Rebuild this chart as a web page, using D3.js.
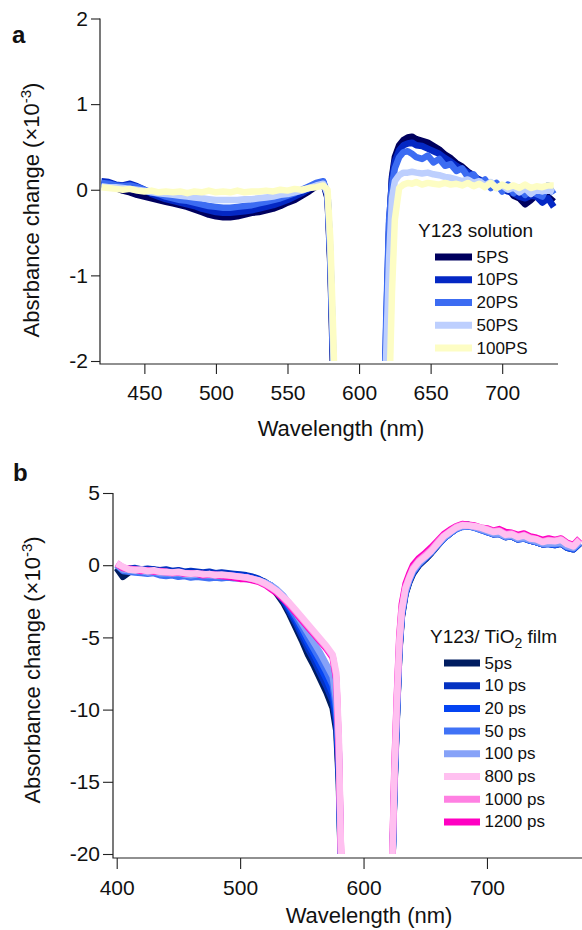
<!DOCTYPE html>
<html><head><meta charset="utf-8">
<script src="https://cdn.jsdelivr.net/npm/d3@7"></script>
<style>
body{margin:0;background:#fff}
svg{display:block}
text{font-family:"Liberation Sans",Arial,Helvetica,sans-serif;fill:#111}
</style>
</head><body>
<svg id="c" width="582" height="930"></svg>
<script>
// ---------------- Panel a data (Y123 solution) ----------------
const wlA = [420,425,430,435,440,445,450,455,460,465,470,475,480,485,490,495,500,505,510,515,520,525,530,535,540,545,550,555,560,565,570,575,
  578,580,582,584,
  617,619,621,623,625,628,631,634,637,640,
  644,648,652,656,660,664,668,672,676,680,684,688,692,696,700,704,708,712,716,720,724,728,732,736];
const namesA = ["5PS","10PS","20PS","50PS","100PS"];
const colorsA = ["#00005e","#0428c4","#3c6cf2","#bdcffe","#fdfdc4"];
const a5PS = [0.06,0.05,0.02,-0.01,-0.03,-0.06,-0.08,-0.10,-0.12,-0.14,-0.16,-0.18,-0.20,-0.23,-0.26,-0.29,-0.31,-0.32,-0.32,-0.31,-0.29,-0.27,-0.26,-0.24,-0.22,-0.19,-0.15,-0.12,-0.07,-0.02,0.04,0.08,
  -0.1,-0.9,-2.2,-3,
  -3,-1.8,-0.5,0.15,0.38,0.52,0.58,0.61,0.62,0.59,
  0.57,0.55,0.51,0.47,0.41,0.37,0.31,0.27,0.21,0.17,0.1,0.09,0.03,0.06,0.0,0.02,-0.07,-0.1,-0.17,-0.12,-0.06,-0.12,-0.08,-0.14];
const a10PS = [0.10,0.09,0.06,0.05,0.07,0.04,0.0,-0.05,-0.08,-0.11,-0.13,-0.15,-0.17,-0.19,-0.22,-0.24,-0.26,-0.27,-0.27,-0.26,-0.25,-0.24,-0.22,-0.2,-0.18,-0.15,-0.12,-0.08,-0.04,0.01,0.06,0.09,
  -0.08,-0.85,-2.1,-3,
  -3,-1.6,-0.4,0.12,0.33,0.46,0.52,0.54,0.55,0.52,
  0.51,0.48,0.45,0.42,0.37,0.33,0.28,0.24,0.2,0.15,0.12,0.07,0.05,0.03,0.01,-0.02,-0.04,-0.08,-0.1,-0.07,-0.08,-0.15,-0.1,-0.2];
const a20PS = [0.08,0.07,0.05,0.04,0.05,0.03,0.0,-0.03,-0.05,-0.08,-0.10,-0.12,-0.13,-0.15,-0.17,-0.19,-0.20,-0.21,-0.21,-0.20,-0.19,-0.18,-0.16,-0.14,-0.12,-0.10,-0.07,-0.04,0.0,0.04,0.08,0.1,
  -0.05,-0.8,-2.0,-3,
  -3,-1.5,-0.35,0.05,0.25,0.38,0.44,0.45,0.42,0.38,
  0.36,0.4,0.32,0.36,0.28,0.3,0.22,0.25,0.15,0.18,0.08,0.12,0.02,0.08,-0.02,0.06,-0.04,0.02,-0.06,0.0,-0.05,-0.08,0.05,-0.05];
const a50PS = [0.04,0.03,0.03,0.02,0.01,0.0,-0.01,-0.03,-0.04,-0.05,-0.06,-0.07,-0.08,-0.09,-0.1,-0.11,-0.12,-0.12,-0.12,-0.12,-0.11,-0.11,-0.1,-0.09,-0.08,-0.06,-0.05,-0.03,-0.01,0.02,0.05,0.07,
  -0.05,-0.75,-1.9,-3,
  -3,-1.9,-0.8,-0.1,0.1,0.17,0.2,0.2,0.21,0.2,
  0.19,0.2,0.18,0.17,0.15,0.14,0.12,0.1,0.12,0.08,0.1,0.05,0.09,0.02,0.05,0.0,0.03,-0.03,0.02,-0.05,0.0,-0.02,0.0,-0.03];
const a100PS = [0.03,0.02,0.01,0.0,0.01,-0.01,-0.02,-0.01,-0.03,-0.02,-0.03,-0.02,-0.04,-0.02,-0.03,-0.01,-0.03,-0.02,-0.03,-0.01,-0.03,-0.02,-0.02,-0.01,-0.02,0.0,-0.01,0.01,0.0,0.02,0.03,0.05,
  0.0,-0.6,-1.7,-3,
  -3,-3,-2.5,-1.2,-0.35,0.02,0.06,0.08,0.07,0.09,
  0.06,0.08,0.07,0.06,0.08,0.06,0.07,0.05,0.08,0.04,0.07,0.03,0.08,0.02,0.06,0.03,0.05,0.02,0.06,0.02,0.04,0.03,0.05,0.05];
const seriesA = [a5PS,a10PS,a20PS,a50PS,a100PS];
const xTicksA = [450,500,550,600,650,700];
const yTicksA = [-2,-1,0,1,2];

// ---------------- Panel b data (Y123/TiO2 film) ----------------
const wlB = [400,405,410,415,420,425,430,435,440,445,450,455,460,465,470,475,480,485,490,495,500,505,510,515,
  520,525,530,535,540,545,550,555,560,565,570,575,
  578,580,582,584,
  621,623,625,627,629,631,634,637,640,
  645,650,655,660,665,670,675,680,685,690,695,700,705,710,715,720,725,730,735,740,745,750,755,760,765,770,775];
const namesB = ["5ps","10 ps","20 ps","50 ps","100 ps","800 ps","1000 ps","1200 ps"];
const colorsB = ["#001c60","#0432c2","#0444f2","#4072f6","#86a2f8","#ffc0f0","#ff80e2","#ff00c2"];
const b5 = [-0.2,-0.8,-0.5,-0.3,-0.35,-0.4,-0.3,-0.45,-0.4,-0.5,-0.4,-0.5,-0.55,-0.5,-0.6,-0.55,-0.65,-0.6,-0.65,-0.7,-0.75,-0.8,-0.9,-1.0,
  -1.15,-1.5,-2.0,-2.6,-3.4,-4.3,-5.2,-6.2,-7.0,-7.9,-8.8,-9.9,
  -11.5,-15,-22,-25,
  -25,-22,-15.5,-10.5,-6,-3.6,-2.0,-1.2,-0.6,
  0.0,0.4,0.85,1.35,1.85,2.2,2.55,2.75,2.8,2.65,2.5,2.35,2.15,2.2,1.95,2.0,1.8,1.9,1.7,1.6,1.45,1.5,1.4,1.5,1.2,1.1,1.5];
const b10 = [0.0,-0.3,-0.25,-0.2,-0.3,-0.25,-0.3,-0.35,-0.3,-0.4,-0.35,-0.45,-0.4,-0.45,-0.5,-0.45,-0.55,-0.5,-0.55,-0.6,-0.65,-0.7,-0.8,-0.95,
  -1.2,-1.45,-1.9,-2.45,-3.2,-4.0,-4.9,-5.8,-6.6,-7.5,-8.4,-9.4,
  -11,-14.5,-22,-25,
  -25,-22,-15.3,-10.4,-5.9,-3.5,-1.9,-1.1,-0.55,
  0.05,0.45,0.9,1.4,1.85,2.2,2.5,2.7,2.72,2.6,2.5,2.3,2.2,2.15,1.95,2.0,1.8,1.85,1.7,1.6,1.45,1.5,1.45,1.5,1.25,1.15,1.55];
const b20 = [0.05,-0.2,-0.3,-0.35,-0.3,-0.45,-0.4,-0.5,-0.45,-0.55,-0.5,-0.6,-0.6,-0.55,-0.65,-0.6,-0.65,-0.7,-0.7,-0.7,-0.75,-0.8,-0.9,-1.0,
  -1.2,-1.4,-1.8,-2.3,-3.0,-3.75,-4.6,-5.45,-6.2,-7.05,-7.9,-8.9,
  -10.5,-14,-22,-25,
  -25,-22,-15.2,-10.3,-5.8,-3.45,-1.9,-1.1,-0.5,
  0.1,0.5,0.9,1.4,1.85,2.2,2.5,2.68,2.7,2.6,2.45,2.3,2.15,2.2,1.95,2.0,1.8,1.85,1.7,1.6,1.45,1.45,1.4,1.5,1.2,1.1,1.5];
const b50 = [0.0,-0.4,-0.45,-0.5,-0.55,-0.6,-0.55,-0.7,-0.75,-0.7,-0.8,-0.75,-0.85,-0.8,-0.85,-0.9,-0.85,-0.9,-0.85,-0.9,-0.9,-0.95,-1.0,-1.1,
  -1.2,-1.4,-1.75,-2.2,-2.85,-3.55,-4.3,-5.1,-5.85,-6.6,-7.4,-8.3,
  -10,-13.5,-22,-25,
  -25,-22,-15.1,-10.2,-5.7,-3.4,-1.85,-1.05,-0.45,
  0.1,0.5,0.9,1.4,1.85,2.2,2.5,2.65,2.7,2.6,2.45,2.3,2.15,2.15,1.95,2.0,1.8,1.85,1.7,1.6,1.45,1.5,1.45,1.5,1.25,1.15,1.55];
const b100 = [0.05,-0.3,-0.35,-0.4,-0.4,-0.5,-0.45,-0.55,-0.55,-0.6,-0.55,-0.65,-0.7,-0.65,-0.7,-0.7,-0.75,-0.75,-0.75,-0.8,-0.85,-0.85,-0.95,-1.05,
  -1.2,-1.4,-1.7,-2.1,-2.7,-3.3,-4.0,-4.7,-5.4,-6.1,-6.9,-7.7,
  -9.5,-13,-22,-25,
  -25,-21.8,-15,-10,-5.6,-3.3,-1.8,-1.0,-0.4,
  0.15,0.55,0.95,1.45,1.9,2.25,2.55,2.7,2.72,2.62,2.5,2.35,2.2,2.2,2.0,2.05,1.85,1.9,1.75,1.65,1.5,1.5,1.5,1.55,1.3,1.2,1.6];
const b800 = [0.1,-0.1,-0.3,-0.35,-0.3,-0.4,-0.35,-0.45,-0.45,-0.5,-0.45,-0.55,-0.6,-0.55,-0.65,-0.6,-0.7,-0.65,-0.7,-0.75,-0.8,-0.85,-0.95,-1.05,
  -1.25,-1.5,-1.8,-2.2,-2.6,-3.1,-3.6,-4.1,-4.6,-5.1,-5.6,-6.2,
  -7.5,-12,-21,-25,
  -25,-21.5,-14.5,-9.5,-5.3,-3.1,-1.6,-0.9,-0.3,
  0.25,0.6,1.0,1.5,2.0,2.3,2.6,2.77,2.75,2.7,2.6,2.45,2.3,2.35,2.1,2.15,1.95,2.05,1.85,1.8,1.6,1.7,1.65,1.75,1.45,1.3,1.75];
const b1000 = [0.15,-0.15,-0.3,-0.3,-0.35,-0.4,-0.4,-0.45,-0.5,-0.5,-0.5,-0.55,-0.55,-0.6,-0.6,-0.65,-0.65,-0.7,-0.7,-0.75,-0.8,-0.85,-0.95,-1.1,
  -1.3,-1.55,-1.85,-2.25,-2.7,-3.2,-3.7,-4.2,-4.7,-5.2,-5.7,-6.3,
  -7.8,-12.5,-21,-25,
  -25,-21.4,-14.4,-9.4,-5.2,-3.0,-1.5,-0.8,-0.2,
  0.35,0.7,1.1,1.6,2.05,2.35,2.65,2.8,2.75,2.7,2.6,2.5,2.35,2.4,2.15,2.2,2.0,2.1,1.9,1.8,1.65,1.75,1.7,1.8,1.5,1.35,1.8];
const b1200 = [0.1,-0.2,-0.25,-0.3,-0.4,-0.35,-0.45,-0.4,-0.45,-0.55,-0.5,-0.6,-0.55,-0.6,-0.7,-0.65,-0.7,-0.75,-0.8,-0.85,-0.95,-0.95,-1.05,-1.15,
  -1.35,-1.65,-1.95,-2.35,-2.8,-3.3,-3.8,-4.3,-4.8,-5.3,-5.8,-6.4,
  -8,-13,-21,-25,
  -25,-21.2,-14,-9,-4.9,-2.7,-1.3,-0.6,0.0,
  0.5,0.85,1.25,1.7,2.15,2.45,2.7,2.85,2.8,2.75,2.6,2.55,2.4,2.5,2.3,2.25,2.1,2.2,2.0,1.9,1.75,1.85,1.75,1.85,1.55,1.4,1.85];
const seriesB = [b5,b10,b20,b50,b100,b800,b1000,b1200];
const drawOrderB = [0,1,2,3,4,7,6,5];
const xTicksB = [400,500,600,700];
const yTicksB = [-20,-15,-10,-5,0,5];

// ---------------- drawing ----------------
const svg = d3.select("#c");
const FONT = '"Liberation Sans",Arial,Helvetica,sans-serif';

function drawPanel(p) {
  const x = d3.scaleLinear().domain(p.xDomain).range(p.xRange);
  const y = d3.scaleLinear().domain(p.yDomain).range(p.yRange);
  const g = svg.append("g");

  const clipId = "clip" + p.id;
  svg.append("defs").append("clipPath").attr("id", clipId)
    .append("rect")
    .attr("x", p.xRange[0] + 1).attr("y", p.yRange[1] - 2)
    .attr("width", p.xRange[1] - p.xRange[0] + 2)
    .attr("height", p.yRange[0] - p.yRange[1] + 2);

  const line = d3.line().x((d, i) => x(p.wl[i])).y(d => y(d));
  const plot = g.append("g").attr("clip-path", `url(#${clipId})`);
  p.order.forEach(k => {
    plot.append("path").datum(p.series[k])
      .attr("d", line)
      .attr("fill", "none")
      .attr("stroke", p.colors[k])
      .attr("stroke-width", p.sw)
      .attr("stroke-linejoin", "round")
      .attr("stroke-linecap", "butt");
  });

  // axes
  const ya = g.append("g").attr("transform", `translate(${p.xRange[0]},0)`)
    .call(d3.axisLeft(y).tickValues(p.yTicks).tickSize(p.yTickSize).tickPadding(3).tickFormat(d => String(d)));
  ya.select(".domain").remove();
  const xa = g.append("g").attr("transform", `translate(0,${p.xAxisY})`)
    .call(d3.axisBottom(x).tickValues(p.xTicks).tickSize(p.xTickSize).tickPadding(p.xPad).tickFormat(d => String(d)));
  xa.select(".domain").remove();
  [ya, xa].forEach(a => {
    a.attr("font-family", FONT).attr("font-size", 21);
    a.selectAll("line").attr("stroke", "#222").attr("stroke-width", 1.1);
    a.selectAll("text").attr("fill", "#111");
  });
  g.append("path")
    .attr("d", `M${p.xRange[0]},${p.yRange[1]}V${p.xAxisY}H${p.xRange[1]}`)
    .attr("fill", "none").attr("stroke", "#222").attr("stroke-width", 1.2);

  // axis titles
  g.append("text").attr("x", p.xTitle[0]).attr("y", p.xTitle[1])
    .attr("text-anchor", "middle").attr("font-size", 22).text("Wavelength (nm)");
  const yt = g.append("text")
    .attr("transform", `translate(${p.yTitle[0]},${p.yTitle[1]}) rotate(-90)`)
    .attr("text-anchor", "middle").attr("font-size", 22);
  yt.append("tspan").text(p.yLabel + " (×10");
  yt.append("tspan").attr("dy", -8).attr("font-size", 15).text("-3");
  yt.append("tspan").attr("dy", 8).text(")");

  // panel letter
  g.append("text").attr("x", p.letter[0]).attr("y", p.letter[1])
    .attr("font-size", 24).attr("font-weight", "bold").text(p.id);

  // legend
  const lg = g.append("g");
  const title = lg.append("text").attr("x", p.legTitle[0]).attr("y", p.legTitle[1]).attr("font-size", 19);
  p.legTitleParts.forEach(t => {
    const ts = title.append("tspan").text(t.text);
    if (t.sub) ts.attr("font-size", 14).attr("dy", 5);
    if (t.after) ts.attr("dy", -5);
  });
  p.names.forEach((n, i) => {
    const ry = p.legRow0 + i * p.legStep;
    lg.append("line").attr("x1", p.legX[0]).attr("x2", p.legX[1]).attr("y1", ry).attr("y2", ry)
      .attr("stroke", p.colors[i]).attr("stroke-width", 7);
    lg.append("text").attr("x", p.legX[1] + 4.5).attr("y", ry + 5.5).attr("font-size", 17).text(n);
  });
}

drawPanel({
  id: "a", wl: wlA, series: seriesA, colors: colorsA, names: namesA, order: [0,1,2,3,4],
  xDomain: [419, 739], xRange: [100, 558], yDomain: [-2, 2], yRange: [361, 18.5],
  xAxisY: 364, xTicks: xTicksA, yTicks: yTicksA, yTickSize: 9, xTickSize: 10, xPad: 11, sw: 6.5,
  xTitle: [341, 436], yTitle: [39, 210], yLabel: "Absrbance change", letter: [12, 42.5],
  legTitle: [418, 236.5], legTitleParts: [{text: "Y123 solution"}],
  legX: [435, 472], legRow0: 257, legStep: 22.75
});

drawPanel({
  id: "b", wl: wlB, series: seriesB, colors: colorsB, names: namesB, order: drawOrderB,
  xDomain: [397, 777], xRange: [113, 582], yDomain: [-20, 5], yRange: [854, 493],
  xAxisY: 858, xTicks: xTicksB, yTicks: yTicksB, yTickSize: 10, xTickSize: 11, xPad: 11, sw: 6.5,
  xTitle: [369, 923], yTitle: [40, 670], yLabel: "Absorbance change", letter: [13, 481],
  legTitle: [430, 643], legTitleParts: [{text: "Y123/ TiO"}, {text: "2", sub: true}, {text: " film", after: true}],
  legX: [444, 480], legRow0: 663, legStep: 22.7
});
</script>
</body></html>
